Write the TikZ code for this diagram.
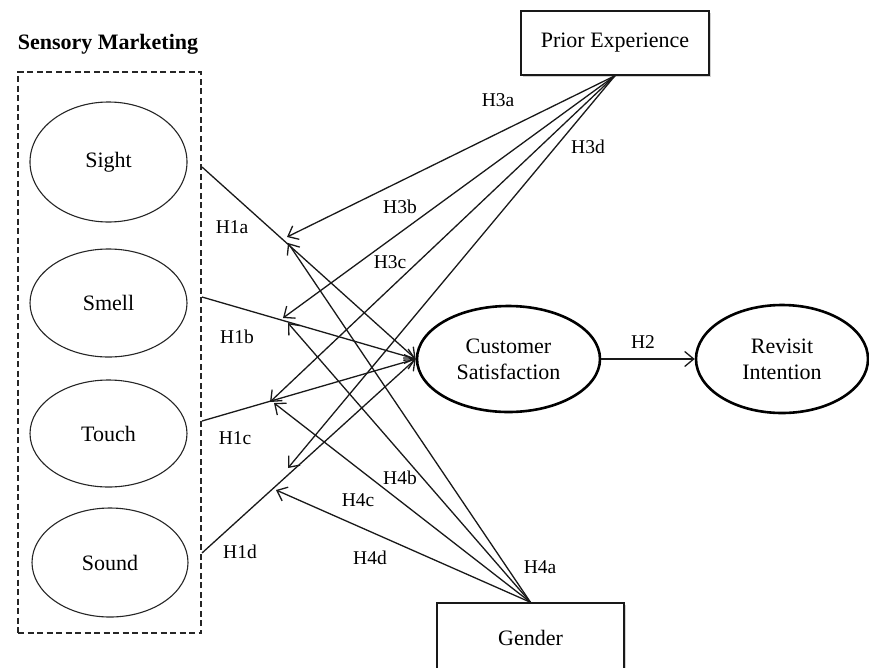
\documentclass[tikz,border=0pt]{standalone}
\usepackage{fontspec}
\setmainfont{Liberation Serif}
\usetikzlibrary{shapes.geometric,arrows.meta,shadows}

\begin{document}
\begin{tikzpicture}[x=1pt,y=-1pt,
  every node/.style={font=\fontsize{22}{26}\selectfont, text=black},
  conn/.style={draw=black!90, line width=1.3pt},
  harrow/.style={conn, -{Straight Barb[length=9pt,width=15pt,line width=1.3pt]}},
  sense/.style={ellipse, draw=black!85, line width=1.1pt, inner sep=0pt},
  construct/.style={ellipse, draw=black, line width=2.6pt, inner sep=0pt, align=center},
  modbox/.style={rectangle, draw=black!90, line width=1.4pt, fill=white,
    drop shadow={shadow xshift=1.5pt, shadow yshift=-2pt, opacity=0.18, fill=black}},
  hyp/.style={font=\fontsize{19.5}{22}\selectfont, inner sep=0pt}]

\useasboundingbox (0,0) rectangle (869,667);
\clip (0,0) rectangle (869,667);
\fill[white] (0,0) rectangle (869,667);

% Sensory marketing block
\node[font=\fontsize{22}{26}\selectfont\bfseries] (title) at (108,44) {Sensory Marketing};
\node[draw=black!85, dashed, dash pattern=on 6pt off 3.5pt, line width=1.2pt,
      minimum width=183, minimum height=561, inner sep=0pt] (sm) at (109.5,352.5) {};

\node[sense, minimum width=157, minimum height=120] (sight) at (108.5,162) {Sight};
\node[sense, minimum width=157, minimum height=108] (smell) at (108.5,303) {Smell};
\node[sense, minimum width=157, minimum height=107] (touch) at (108.5,433.5) {Touch};
\node[sense, minimum width=156, minimum height=109] (sound) at (110,562.5) {Sound};

% Outcome constructs
\node[construct, minimum width=183, minimum height=106] (cs) at (508.5,359) {Customer\\Satisfaction};
\node[construct, minimum width=172, minimum height=108] (ri) at (782,359) {Revisit\\Intention};

% Moderators
\node[modbox, minimum width=188, minimum height=64] (pe) at (615,43) {Prior Experience};
\node[modbox, minimum width=187, minimum height=70] (gd) at (530.5,638) {Gender};

% Path start points on the block border
\coordinate (s1) at (202,167);
\coordinate (s2) at (202,297);
\coordinate (s3) at (202,421);
\coordinate (s4) at (202,553);

% Moderation targets on the paths
\coordinate (a3) at (287,237);
\coordinate (b3) at (283,318);
\coordinate (c3) at (270,402);
\coordinate (d3) at (288,468);
\coordinate (a4) at (288,243);
\coordinate (b4) at (288,323);
\coordinate (c4) at (274,403);
\coordinate (d4) at (276,490);

% Direct effects
\draw[harrow] (s1) -- (cs.west);
\draw[harrow] (s2) -- (cs.west);
\draw[harrow] (s3) -- (cs.west);
\draw[harrow] (s4) -- (cs.west);
\draw[harrow] (cs.east) -- (ri.west);

% Prior experience moderation
\draw[harrow] (pe.south) -- (a3);
\draw[harrow] (pe.south) -- (b3);
\draw[harrow] (pe.south) -- (c3);
\draw[harrow] (pe.south) -- (d3);

% Gender moderation
\draw[harrow] (gd.north) -- (a4);
\draw[harrow] (gd.north) -- (b4);
\draw[harrow] (gd.north) -- (c4);
\draw[harrow] (gd.north) -- (d4);

% Hypothesis labels
\node[hyp] (h1a) at (232,227) {H1a};
\node[hyp] (h1b) at (237,337) {H1b};
\node[hyp] (h1c) at (235,438) {H1c};
\node[hyp] (h1d) at (240,552) {H1d};
\node[hyp] (h2)  at (643,342) {H2};
\node[hyp] (h3a) at (498,100) {H3a};
\node[hyp] (h3b) at (400,207) {H3b};
\node[hyp] (h3c) at (390,262) {H3c};
\node[hyp] (h3d) at (588,147) {H3d};
\node[hyp] (h4a) at (540,567) {H4a};
\node[hyp] (h4b) at (400,478) {H4b};
\node[hyp] (h4c) at (358,500) {H4c};
\node[hyp] (h4d) at (370,558) {H4d};
\end{tikzpicture}
\end{document}
